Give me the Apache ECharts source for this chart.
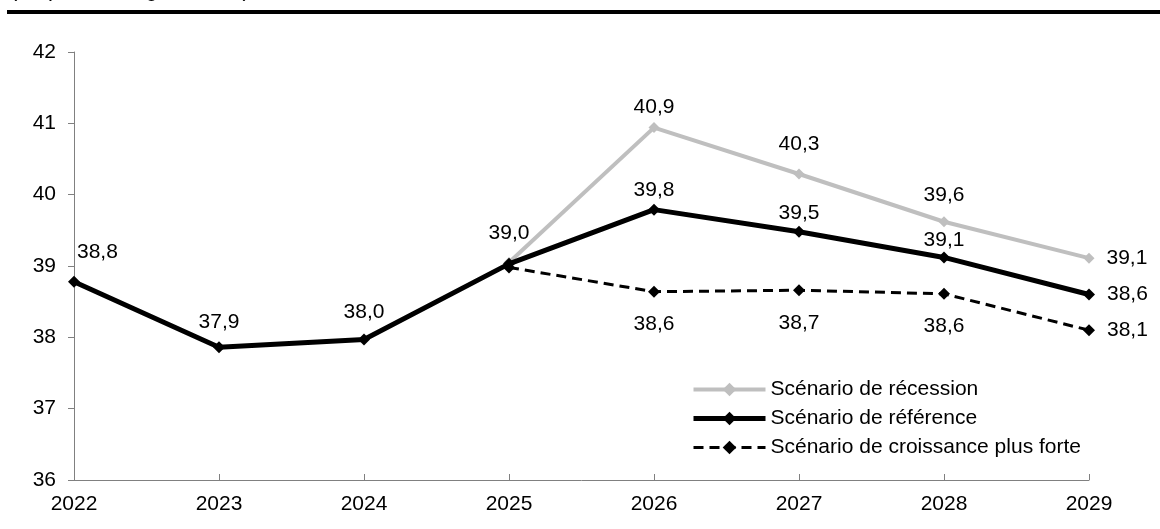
<!DOCTYPE html>
<html>
<head>
<meta charset="utf-8">
<script src="https://cdn.jsdelivr.net/npm/echarts@6/dist/echarts.min.js"></script>
<style>html,body{margin:0;padding:0;background:#fff}#c{width:1160px;height:529px}</style>
</head>
<body>
<div id="c"></div>
<script>
var years = ['2022','2023','2024','2025','2026','2027','2028','2029'];
var yTicks = [36, 37, 38, 39, 40, 41, 42];
var recession = [null, null, null, 39.05, 40.94, 40.29, 39.62, 39.11];
var reference = [38.78, 37.86, 37.97, 39.03, 39.79, 39.48, 39.12, 38.60];
var croissance = [null, null, null, 38.98, 38.64, 38.66, 38.61, 38.10];
var seriesNames = ['Scénario de récession', 'Scénario de référence', 'Scénario de croissance plus forte'];
var subtitle = '(en pourcentage du PIB)';

var FONT = 'Liberation Sans, Arial, sans-serif';
var FS = 21;
function fmt(v){ return v == null ? '' : v.toFixed(1).replace('.', ','); }

function build(values, pos, dist, skip) {
  return values.map(function (v, i) {
    if (v == null) return null;
    var item = { value: v };
    var last = i === values.length - 1;
    if (skip.indexOf(i) >= 0) {
      item.label = { show: false };
    } else if (last) {
      item.label = { position: 'right', distance: 12 };
    } else {
      item.label = { position: pos, distance: dist[i] };
    }
    return item;
  });
}

var chart = echarts.init(document.getElementById('c'), null, { renderer: 'canvas' });
var labelBase = { show: true, fontFamily: FONT, fontSize: FS, color: '#000', formatter: function (p) { return fmt(p.value); } };

var refItems = build(reference, 'top', [0, 9, 11, 14, 3, 2, 1, 0], []);
refItems[0].label = { position: 'insideBottomLeft', offset: [4, -20] };

var colors = ['#BFBFBF', '#000', '#000'];
var widths = [4, 5, 3];
var types = ['solid', 'solid', [10, 6]];

var option = {
  animation: false,
  backgroundColor: '#fff',
  textStyle: { fontFamily: FONT },
  grid: { left: 74, right: 71, top: 52, bottom: 49, containLabel: false },
  legend: {
    orient: 'vertical',
    left: 686,
    top: 374,
    itemWidth: 72,
    itemHeight: 17,
    itemGap: 8,
    data: seriesNames.map(function (n, i) {
      return { name: n, lineStyle: { width: widths[i], color: colors[i], type: types[i] }, itemStyle: { color: colors[i] } };
    }),
    textStyle: { fontFamily: FONT, fontSize: FS, color: '#000', lineHeight: 21 }
  },
  xAxis: {
    type: 'category',
    data: years,
    boundaryGap: false,
    axisLine: { lineStyle: { color: '#808080', width: 1 } },
    axisTick: { show: true, inside: true, length: 6, lineStyle: { color: '#808080' } },
    axisLabel: { fontFamily: FONT, fontSize: FS, color: '#000', margin: 14 }
  },
  yAxis: {
    type: 'value',
    min: yTicks[0],
    max: yTicks[yTicks.length - 1],
    interval: 1,
    splitLine: { show: false },
    axisLine: { show: true, lineStyle: { color: '#808080', width: 1 } },
    axisTick: { show: true, inside: false, length: 6, lineStyle: { color: '#808080' } },
    axisLabel: { fontFamily: FONT, fontSize: FS, color: '#000', margin: 18 }
  },
  graphic: [
    { type: 'text', left: 10, top: -21, style: { text: subtitle, font: '22px ' + FONT, fill: '#000' }, z: 10 },
    { type: 'rect', shape: { x: 7, y: 10, width: 1153, height: 4 }, style: { fill: '#000' }, z: 11 }
  ],
  series: [
    {
      name: seriesNames[0],
      type: 'line',
      data: build(recession, 'top', [0, 0, 0, 0, 4, 14, 11, 0], [3]),
      symbol: 'diamond',
      symbolSize: 11,
      lineStyle: { color: colors[0], width: widths[0] },
      itemStyle: { color: colors[0] },
      label: labelBase,
      z: 2
    },
    {
      name: seriesNames[1],
      type: 'line',
      data: refItems,
      symbol: 'diamond',
      symbolSize: 12,
      lineStyle: { color: colors[1], width: widths[1] },
      itemStyle: { color: colors[1] },
      label: labelBase,
      z: 4
    },
    {
      name: seriesNames[2],
      type: 'line',
      data: build(croissance, 'bottom', [0, 0, 0, 0, 16, 16, 16, 0], [3]),
      symbol: 'diamond',
      symbolSize: 12,
      lineStyle: { color: colors[2], width: widths[2], type: types[2] },
      itemStyle: { color: colors[2] },
      label: labelBase,
      z: 3
    }
  ]
};
chart.setOption(option);
</script>
</body>
</html>
